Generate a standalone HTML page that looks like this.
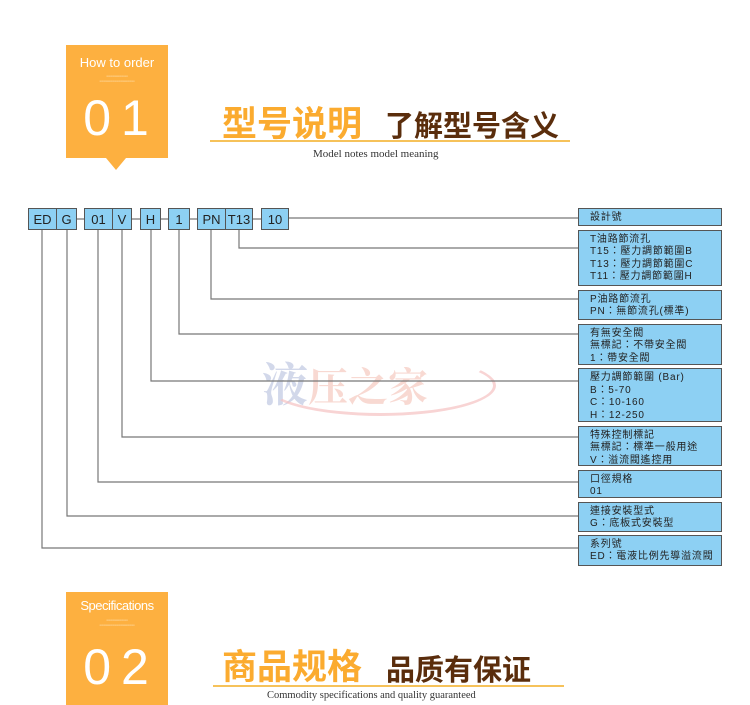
<!DOCTYPE html>
<html><head><meta charset="utf-8"><style>
body{margin:0;width:750px;height:705px;background:#fff;position:relative;overflow:hidden;font-family:"Liberation Sans","Noto Sans CJK TC",sans-serif}
.a{position:absolute}
.ob{position:absolute;background:#fdb040;color:#fff;text-align:center}
.tiny{position:absolute;left:0;right:0;font-size:3px;color:#fde3b8;letter-spacing:0}
.code{position:absolute;top:208px;height:22px;background:#8dd0f3;border:1px solid #555;box-sizing:border-box;font-size:13px;line-height:21px;text-align:center;color:#222}
.rb{position:absolute;left:578px;width:144px;background:#8dd0f3;border:1px solid #555;box-sizing:border-box;font-size:10px;letter-spacing:0.8px;line-height:12.3px;padding:3px 0 0 11px;color:#222;font-family:"Liberation Sans","Noto Sans CJK TC",sans-serif;white-space:nowrap}
</style></head><body>
<div class="ob" style="left:66px;top:45px;width:102px;height:113px">
<div class="a" style="left:0;right:0;top:10px;font-size:13px">How to order</div>
<div class="tiny" style="top:29px">▪▪▪▪▪▪▪▪▪▪▪▪▪▪▪▪▪▪▪▪</div>
<div class="tiny" style="top:34px">▪▪▪▪▪▪▪▪▪▪▪▪▪▪▪▪▪▪▪▪▪▪▪▪▪▪▪▪▪▪▪▪▪</div>
<div class="a" style="left:0;right:0;top:44px;font-size:50px;letter-spacing:10px;padding-left:8px">01</div>
</div>
<div class="a" style="left:106px;top:158px;width:0;height:0;border-left:10px solid transparent;border-right:10px solid transparent;border-top:12px solid #fdb040"></div>
<div class="a" style="left:222px;top:100px;font-size:35px;font-weight:bold;color:#fbab2f;font-family:'Noto Sans CJK SC',sans-serif;line-height:44px">型号说明</div>
<div class="a" style="left:385px;top:104px;font-size:29px;font-weight:bold;color:#5a2d0c;font-family:'Noto Sans CJK SC',sans-serif;line-height:40px">了解型号含义</div>
<div class="a" style="left:210px;top:140px;width:360px;height:2px;background:#f6c25a"></div>
<div class="a" style="left:313px;top:148px;font-size:11px;color:#333;font-family:'Liberation Serif',serif">Model notes model meaning</div>

<div class="a" style="left:262px;top:352px;font-size:46px;font-weight:bold;color:#c8cfe6;opacity:.8;font-family:'Noto Serif CJK SC',serif;line-height:60px">液<span style="color:#f7d0c8;font-size:40px">压之家</span></div>
<div class="a" style="left:265px;top:355px;width:225px;height:55px;border:3px solid #f6c2c2;border-radius:50%;border-left-color:transparent;border-top-color:transparent;opacity:.7"></div>

<svg class="a" style="left:0;top:0" width="750" height="705">
<g stroke="#777" stroke-width="1.2" fill="none">
<path d="M289 218H578"/>
<path d="M239 230V248H578"/>
<path d="M211 230V299H578"/>
<path d="M179 230V334H578"/>
<path d="M151 230V381H578"/>
<path d="M122 230V437H578"/>
<path d="M98 230V482H578"/>
<path d="M67 230V516H578"/>
<path d="M42 230V548H578"/>
<path d="M77 219H84M132 219H140M161 219H168M190 219H197M253 219H261"/>
</g></svg>
<div class="code" style="left:28px;width:29px">ED</div>
<div class="code" style="left:56px;width:21px">G</div>
<div class="code" style="left:84px;width:29px">01</div>
<div class="code" style="left:112px;width:20px">V</div>
<div class="code" style="left:140px;width:21px">H</div>
<div class="code" style="left:168px;width:22px">1</div>
<div class="code" style="left:197px;width:29px">PN</div>
<div class="code" style="left:225px;width:28px">T13</div>
<div class="code" style="left:261px;width:28px">10</div>

<div class="rb" style="top:208px;height:18px">設計號</div>
<div class="rb" style="top:230px;height:56px">T油路節流孔<br>T15：壓力調節範圍B<br>T13：壓力調節範圍C<br>T11：壓力調節範圍H</div>
<div class="rb" style="top:290px;height:30px">P油路節流孔<br>PN：無節流孔(標準)</div>
<div class="rb" style="top:324px;height:41px">有無安全閥<br>無標記：不帶安全閥<br>1：帶安全閥</div>
<div class="rb" style="top:368px;height:54px;line-height:12.5px">壓力調節範圍 (Bar)<br>B：5-70<br>C：10-160<br>H：12-250</div>
<div class="rb" style="top:426px;height:40px">特殊控制標記<br>無標記：標準一般用途<br>V：溢流閥遙控用</div>
<div class="rb" style="top:470px;height:28px">口徑規格<br>01</div>
<div class="rb" style="top:502px;height:30px">連接安裝型式<br>G：底板式安裝型</div>
<div class="rb" style="top:535px;height:31px">系列號<br>ED：電液比例先導溢流閥</div>

<div class="ob" style="left:66px;top:592px;width:102px;height:113px">
<div class="a" style="left:0;right:0;top:6px;font-size:13px;letter-spacing:-0.5px">Specifications</div>
<div class="tiny" style="top:26px">▪▪▪▪▪▪▪▪▪▪▪▪▪▪▪▪▪▪▪▪</div>
<div class="tiny" style="top:31px">▪▪▪▪▪▪▪▪▪▪▪▪▪▪▪▪▪▪▪▪▪▪▪▪▪▪▪▪▪▪▪▪▪</div>
<div class="a" style="left:0;right:0;top:46px;font-size:50px;letter-spacing:10px;padding-left:8px">02</div>
</div>
<div class="a" style="left:222px;top:643px;font-size:35px;font-weight:bold;color:#fbab2f;font-family:'Noto Sans CJK SC',sans-serif;line-height:44px">商品规格</div>
<div class="a" style="left:386px;top:648px;font-size:29px;font-weight:bold;color:#5a2d0c;font-family:'Noto Sans CJK SC',sans-serif;line-height:40px">品质有保证</div>
<div class="a" style="left:213px;top:685px;width:351px;height:2px;background:#f6c25a"></div>
<div class="a" style="left:267px;top:690px;font-size:10.5px;color:#333;font-family:'Liberation Serif',serif">Commodity specifications and quality guaranteed</div>
</body></html>
